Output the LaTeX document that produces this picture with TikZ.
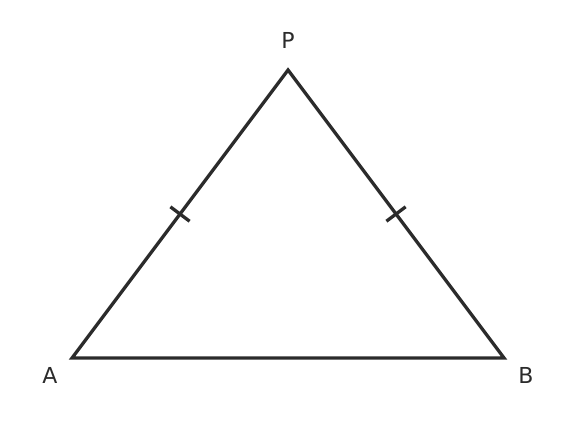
\documentclass[tikz,border=0pt]{standalone}
\usepackage{fontspec}
\setmainfont{DejaVu Sans}
\usetikzlibrary{calc}
\definecolor{ink}{HTML}{2B2B2B}
\tikzset{side/.style={draw=ink,line width=3.3pt,line join=miter},
 tick/.style={draw=ink,line width=3.3pt},
 lab/.style={font=\fontsize{22}{26}\selectfont,text=ink,inner sep=0pt}}
\begin{document}
\begin{tikzpicture}[x=1pt,y=-1pt]
\useasboundingbox (0,0) rectangle (576,431);
\coordinate (A) at (72,358);
\coordinate (B) at (504,358);
\coordinate (P) at (288,70);
\draw[side] (A) -- (P) -- (B) -- cycle;
\coordinate (m1) at ($(A)!0.5!(P)$);
\coordinate (m2) at ($(B)!0.5!(P)$);
\draw[tick] ($(m1)+(-9.6,-7.2)$) -- ($(m1)+(9.6,7.2)$);
\draw[tick] ($(m2)+(9.6,-7.2)$) -- ($(m2)+(-9.6,7.2)$);
\node[lab] (lP) at (288,40.5) {P};
\node[lab] (lA) at (50,375.5) {A};
\node[lab] (lB) at (526,375.5) {B};
\end{tikzpicture}
\end{document}
